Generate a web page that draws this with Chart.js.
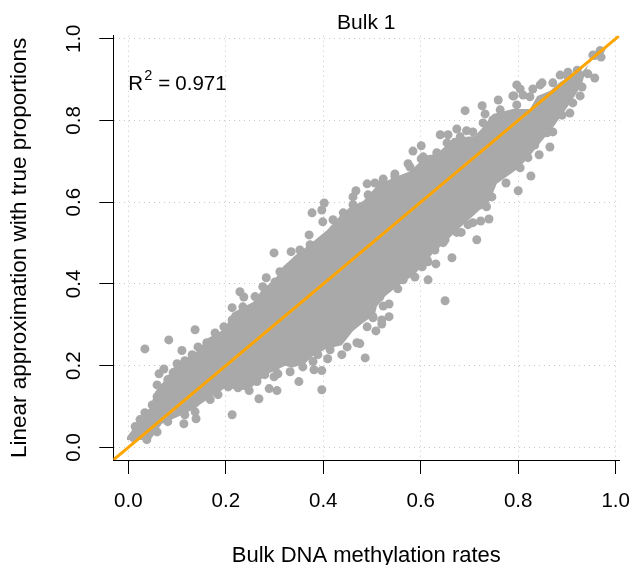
<!DOCTYPE html>
<html lang="en">
<head>
  <meta charset="UTF-8" />
  <title>Bulk 1</title>
  <script src="https://cdn.jsdelivr.net/npm/chart.js"></script>
  <style>
    html, body { margin: 0; padding: 0; background: #fff; }
    canvas { display: block; }
  </style>
</head>
<body>
  <canvas id="scatter" width="633" height="565"></canvas>

  <script>
    const tickValues = [0, 0.2, 0.4, 0.6, 0.8, 1];
    const axisMin = -0.0308;
    const axisMax = 1.0074;

    // fit line y = x across the whole plot
    const fitX = [axisMin, axisMax];
    const fitY = [axisMin, axisMax];

    // outline of the overplotted core, where single points can't be told apart
    const coreUpperX = [-0.003, 0.010, 0.024, 0.045, 0.055, 0.075, 0.092, 0.118, 0.141, 0.164, 0.198, 0.213, 0.256, 0.274, 0.301, 0.317, 0.346, 0.373, 0.408, 0.434, 0.455, 0.482, 0.510, 0.543, 0.578, 0.613, 0.633, 0.650, 0.666, 0.711, 0.728, 0.748, 0.789, 0.824, 0.839, 0.865, 0.886, 0.912, 0.933, 0.953, 0.982];
    const coreUpperY = [0.025, 0.046, 0.065, 0.099, 0.136, 0.165, 0.195, 0.217, 0.236, 0.268, 0.290, 0.329, 0.356, 0.385, 0.412, 0.442, 0.473, 0.498, 0.532, 0.566, 0.588, 0.603, 0.640, 0.659, 0.676, 0.715, 0.718, 0.737, 0.757, 0.762, 0.784, 0.816, 0.828, 0.828, 0.860, 0.872, 0.894, 0.913, 0.921, 0.950, 0.977];
    const coreLowerX = [-0.003, 0.045, 0.069, 0.102, 0.137, 0.147, 0.198, 0.246, 0.266, 0.287, 0.322, 0.336, 0.362, 0.377, 0.404, 0.438, 0.461, 0.482, 0.506, 0.510, 0.527, 0.553, 0.584, 0.605, 0.625, 0.639, 0.674, 0.687, 0.711, 0.742, 0.756, 0.797, 0.818, 0.845, 0.871, 0.900, 0.916, 0.931, 0.937, 0.947, 0.968, 0.982];
    const coreLowerY = [0.018, 0.018, 0.058, 0.075, 0.095, 0.105, 0.145, 0.140, 0.160, 0.180, 0.200, 0.195, 0.205, 0.222, 0.240, 0.250, 0.285, 0.305, 0.325, 0.345, 0.370, 0.395, 0.420, 0.445, 0.475, 0.490, 0.530, 0.545, 0.570, 0.605, 0.645, 0.680, 0.705, 0.745, 0.782, 0.831, 0.860, 0.889, 0.916, 0.945, 0.958, 0.977];

    // points that stand clear of the core, read one by one
    const pointX = [0.034, 0.083, 0.137, 0.110, 0.073, 0.063, 0.114, 0.139, 0.213, 0.299, 0.334, 0.283, 0.229, 0.237, 0.213, 0.289, 0.305, 0.299, 0.307, 0.350, 0.268, 0.397, 0.381, 0.397, 0.409, 0.438, 0.402, 0.397, 0.377, 0.399, 0.371, 0.467, 0.461, 0.490, 0.506, 0.523, 0.547, 0.574, 0.584, 0.601, 0.601, 0.640, 0.656, 0.674, 0.694, 0.691, 0.726, 0.732, 0.759, 0.789, 0.797, 0.804, 0.791, 0.830, 0.849, 0.886, 0.902, 0.957, 0.943, 0.931, 0.927, 0.906, 0.970, 0.957, 0.968, 0.865, 0.843, 0.820, 0.826, 0.800, 0.775, 0.740, 0.721, 0.735, 0.723, 0.707, 0.697, 0.683, 0.715, 0.650, 0.664, 0.631, 0.615, 0.650, 0.553, 0.535, 0.523, 0.535, 0.520, 0.520, 0.508, 0.486, 0.475, 0.613, 0.588, 0.502];
    const pointY = [0.241, 0.263, 0.288, 0.237, 0.192, 0.180, 0.058, 0.070, 0.080, 0.476, 0.479, 0.415, 0.381, 0.368, 0.342, 0.144, 0.139, 0.173, 0.180, 0.161, 0.119, 0.141, 0.190, 0.188, 0.217, 0.227, 0.598, 0.581, 0.574, 0.552, 0.520, 0.628, 0.613, 0.645, 0.647, 0.657, 0.669, 0.694, 0.725, 0.706, 0.738, 0.765, 0.765, 0.779, 0.775, 0.824, 0.836, 0.816, 0.850, 0.860, 0.887, 0.877, 0.860, 0.877, 0.892, 0.911, 0.918, 0.904, 0.914, 0.882, 0.860, 0.818, 0.955, 0.959, 0.971, 0.735, 0.716, 0.709, 0.664, 0.628, 0.647, 0.559, 0.593, 0.589, 0.554, 0.550, 0.545, 0.526, 0.508, 0.508, 0.464, 0.449, 0.410, 0.359, 0.388, 0.351, 0.346, 0.320, 0.312, 0.302, 0.285, 0.219, 0.254, 0.459, 0.417, 0.320];

    // points that make the scalloped rim of the core
    const rimUpperX = [0.014, 0.024, 0.034, 0.049, 0.059, 0.059, 0.081, 0.092, 0.100, 0.116, 0.131, 0.143, 0.161, 0.178, 0.196, 0.213, 0.235, 0.260, 0.276, 0.301, 0.311, 0.346, 0.352, 0.373, 0.420, 0.441, 0.461, 0.492, 0.523, 0.547, 0.578, 0.605, 0.633, 0.654, 0.681, 0.707, 0.728, 0.748, 0.763, 0.797, 0.810, 0.824, 0.845, 0.871, 0.900, 0.921, 0.953];
    const rimUpperY = [0.051, 0.068, 0.085, 0.104, 0.124, 0.153, 0.166, 0.183, 0.205, 0.212, 0.227, 0.246, 0.256, 0.280, 0.295, 0.312, 0.344, 0.369, 0.393, 0.405, 0.430, 0.459, 0.483, 0.496, 0.557, 0.574, 0.594, 0.618, 0.647, 0.662, 0.686, 0.711, 0.721, 0.745, 0.760, 0.772, 0.794, 0.801, 0.826, 0.838, 0.862, 0.858, 0.887, 0.892, 0.911, 0.923, 0.960];
    const rimLowerX = [0.010, 0.038, 0.059, 0.081, 0.116, 0.137, 0.137, 0.168, 0.184, 0.205, 0.225, 0.248, 0.264, 0.280, 0.301, 0.332, 0.358, 0.379, 0.389, 0.414, 0.449, 0.469, 0.490, 0.502, 0.516, 0.564, 0.603, 0.615, 0.629, 0.646, 0.674, 0.732, 0.746, 0.756, 0.804, 0.834, 0.859, 0.871, 0.890, 0.912];
    const rimLowerY = [0.024, 0.019, 0.038, 0.063, 0.080, 0.087, 0.109, 0.117, 0.129, 0.148, 0.146, 0.139, 0.161, 0.178, 0.195, 0.185, 0.197, 0.210, 0.227, 0.239, 0.246, 0.256, 0.295, 0.317, 0.368, 0.410, 0.442, 0.454, 0.483, 0.501, 0.526, 0.606, 0.613, 0.672, 0.684, 0.740, 0.770, 0.772, 0.813, 0.843];

    const toXY = (xs, ys) => xs.map((x, i) => ({ x, y: ys[i] }));
    const font = 'Liberation Sans, Arial, Helvetica, sans-serif';
    const grey = '#a9a9a9';

    // R^2 note: the superscript needs a smaller font than the rest
    const r2Note = {
      id: 'r2Note',
      afterDraw(chart) {
        const { ctx, scales } = chart;
        const x = scales.x.getPixelForValue(0);
        const y = scales.y.getPixelForValue(0.875);
        ctx.save();
        ctx.fillStyle = '#000';
        ctx.textBaseline = 'alphabetic';
        ctx.font = '20.5px ' + font;
        ctx.fillText('R', x, y);
        ctx.fillText('=', x + 30, y);
        ctx.fillText('0.971', x + 47, y);
        ctx.font = '14.5px ' + font;
        ctx.fillText('2', x + 16, y - 10);
        ctx.restore();
      }
    };

    const dots = { backgroundColor: grey, borderWidth: 0, pointRadius: 4.5, order: 1 };

    new Chart(document.getElementById('scatter'), {
      type: 'scatter',
      plugins: [r2Note],
      data: {
        datasets: [
          { data: toXY(fitX, fitY), showLine: true, borderColor: '#ffa500', borderWidth: 3, pointRadius: 0, order: 0 },
          { data: toXY(pointX, pointY), ...dots },
          { data: toXY(rimUpperX, rimUpperY), ...dots },
          { data: toXY(rimLowerX, rimLowerY), ...dots },
          { data: toXY(coreUpperX, coreUpperY), showLine: true, borderWidth: 0, borderColor: grey, backgroundColor: grey, pointRadius: 0, fill: '+1', order: 2 },
          { data: toXY(coreLowerX, coreLowerY), showLine: true, borderWidth: 0, borderColor: grey, pointRadius: 0, order: 3 }
        ]
      },
      options: {
        responsive: false,
        animation: false,
        layout: { padding: { left: 0, right: 13.7, top: 0, bottom: 0 } },
        plugins: {
          legend: { display: false },
          tooltip: { enabled: false },
          title: {
            display: true,
            text: 'Bulk 1',
            fullSize: false,
            color: '#000',
            font: { family: font, size: 21, weight: 'normal', lineHeight: 1.2 },
            padding: { top: 10.5, bottom: 0 }
          }
        },
        scales: {
          x: {
            type: 'linear',
            min: axisMin,
            max: axisMax,
            afterBuildTicks(axis) { axis.ticks = tickValues.map(value => ({ value })); },
            afterFit(axis) { axis.height = 105; axis.paddingLeft = 0; axis.paddingRight = 0; },
            grid: { color: '#c8c8c8', tickColor: '#000', tickLength: 14, tickBorderDash: [] },
            border: { color: '#000', width: 1, dash: [1, 4] },
            ticks: {
              color: '#000',
              maxRotation: 0,
              padding: 15,
              font: { family: font, size: 20.5 },
              callback: value => value.toFixed(1)
            },
            title: {
              display: true,
              text: 'Bulk DNA methylation rates',
              color: '#000',
              font: { family: font, size: 22, lineHeight: 0.85 },
              padding: 0
            }
          },
          y: {
            type: 'linear',
            min: axisMin,
            max: axisMax,
            afterBuildTicks(axis) { axis.ticks = tickValues.map(value => ({ value })); },
            afterFit(axis) { axis.width = 113.3; axis.paddingTop = 0; axis.paddingBottom = 0; },
            grid: { color: '#c8c8c8', tickColor: '#000', tickLength: 14, tickBorderDash: [] },
            border: { color: '#000', width: 1, dash: [1, 4] },
            ticks: {
              color: '#000',
              minRotation: 90,
              maxRotation: 90,
              crossAlign: 'center',
              padding: 11,
              font: { family: font, size: 20.5 },
              callback: value => value.toFixed(1)
            },
            title: {
              display: true,
              text: 'Linear approximation with true proportions',
              color: '#000',
              font: { family: font, size: 22.5, lineHeight: 1 },
              padding: { top: 9, bottom: 0 }
            }
          }
        }
      }
    });
  </script>
</body>
</html>
